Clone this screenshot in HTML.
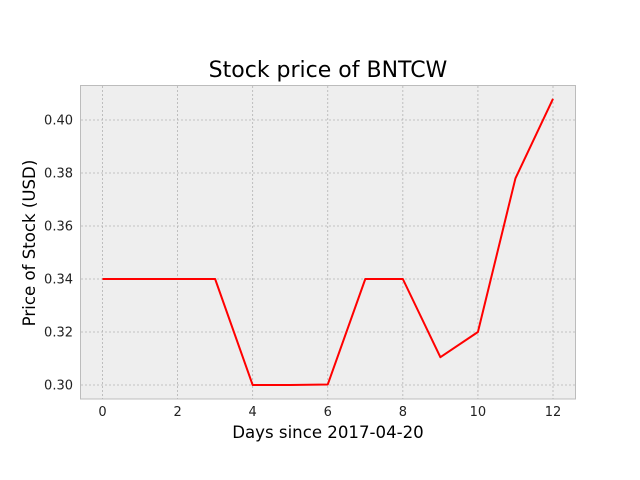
<!DOCTYPE html>
<html><head><meta charset="utf-8"><style>
body{margin:0;background:#fff;}
svg{display:block;font-family:"DejaVu Sans","Liberation Sans",sans-serif;}
</style></head><body>
<svg id="chart" width="640" height="480">
<rect x="0" y="0" width="640" height="480" fill="#fff"/>
<rect x="80.5" y="85.5" width="495" height="313.5" fill="#eeeeee" stroke="#bcbcbc" stroke-width="1"/>
<g id="grid"></g>
<g id="ticks"></g>
<polyline id="line" fill="none" stroke="#ff0000" stroke-width="2" stroke-linejoin="round"/>
<text x="328" y="77" font-size="22" text-anchor="middle">Stock price of BNTCW</text>
<text x="328" y="438" font-size="16.6" text-anchor="middle">Days since 2017-04-20</text>
<text x="35" y="243" font-size="16.6" text-anchor="middle" transform="rotate(-90 35 243)">Price of Stock (USD)</text>
</svg>
<script>
const days=[0,1,2,3,4,5,6,7,8,9,10,11,12];
const prices=[0.34,0.34,0.34,0.34,0.30,0.30,0.3002,0.34,0.34,0.3105,0.32,0.378,0.408];
const xTicks=[0,2,4,6,8,10,12];
const yTicks=[0.30,0.32,0.34,0.36,0.38,0.40];
const yLabels=["0.30","0.32","0.34","0.36","0.38","0.40"];
const NS="http://www.w3.org/2000/svg";
function xs(d){return 102.5+(d-0)*(553-102.5)/12;}
function ys(v){return 385+(v-0.30)*(120-385)/0.10;}
const grid=document.getElementById('grid'),ticks=document.getElementById('ticks');
function mk(tag,attrs,parent){const e=document.createElementNS(NS,tag);for(const k in attrs)e.setAttribute(k,attrs[k]);parent.appendChild(e);return e;}
xTicks.forEach(t=>{const x=xs(t);
 const g=mk('line',{x1:x,x2:x,y1:86,y2:399,stroke:'#b2b2b2','stroke-width':0.8,'stroke-dasharray':'2,2'},grid);
 
 
 const l=mk('text',{x:x,y:416,'font-size':13,'text-anchor':'middle',fill:'#222'},ticks);l.textContent=t;
 
 
});
yTicks.forEach((t,i)=>{const y=ys(t);
 const g=mk('line',{x1:81,x2:575,y1:y,y2:y,stroke:'#b2b2b2','stroke-width':0.8,'stroke-dasharray':'2,2'},grid);
 
 
 const l=mk('text',{x:73,y:y+4.5,'font-size':13,'text-anchor':'end',fill:'#222'},ticks);l.textContent=yLabels[i];
 
 
});
document.getElementById('line').setAttribute('points',days.map((d,i)=>xs(d)+','+ys(prices[i])).join(' '));
</script>
</body></html>
